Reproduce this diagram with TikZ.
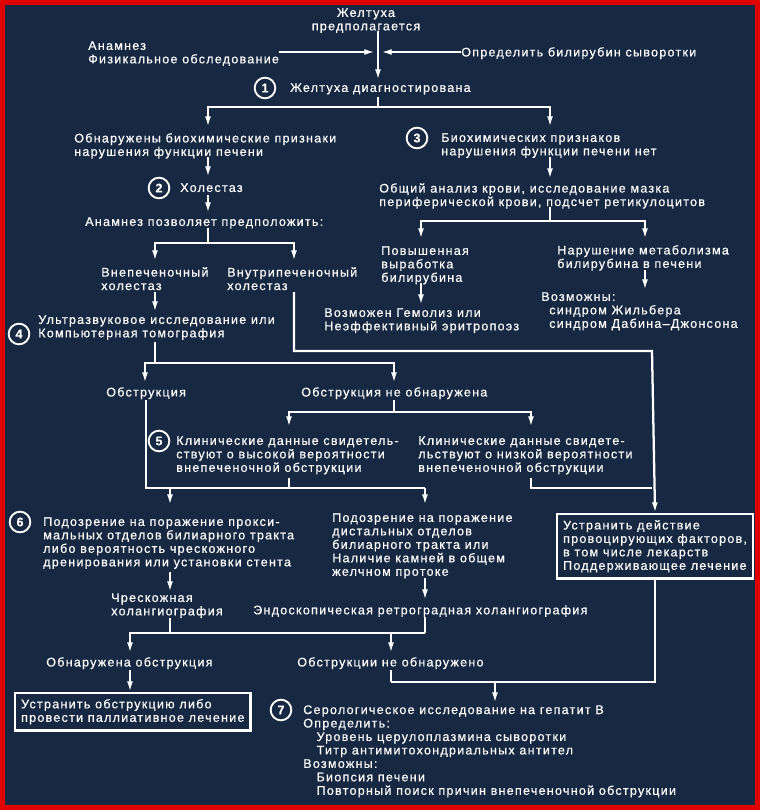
\documentclass[tikz,border=0pt]{standalone}
\usepackage{fontspec}
\setmainfont{Liberation Sans}[LetterSpace=10,FakeBold=0.5]
\usetikzlibrary{arrows.meta}
\definecolor{bgnavy}{RGB}{22,40,66}
\definecolor{framered}{RGB}{225,0,0}
\tikzset{
  txt/.style={anchor=north west, inner sep=0pt, align=left, text=white, font=\fontsize{9.4}{10.1}\selectfont},
  num/.style={circle, draw=white, line width=1.4pt, inner sep=0pt, minimum size=15.5pt, text=white, font=\fontsize{9.4}{10}\selectfont\bfseries},
  conn/.style={draw=white, line width=1.7pt},
  arr/.style={conn, -{Latex[length=8pt,width=4.5pt]}},
  boxed/.style={txt, draw=white, line width=1.7pt, inner sep=4.5pt}
}
\begin{document}
\begin{tikzpicture}[x=0.75pt,y=0.75pt,yscale=-1,xscale=1]
    \useasboundingbox (0,0) rectangle (760,810);
    %Shape: Rectangle [background]
    \fill[bgnavy] (0,0) rectangle (760,810);
    \draw[framered, line width=4pt] (2.5,2.5) rectangle (757.5,807.5);

    % Text Node
    \draw (366,8) node (pred) [txt][anchor=north][align=center] {Желтуха\\предполагается};
    % Text Node
    \draw (88,41) node (anam) [txt] {Анамнез\\Физикальное обследование};
    % Text Node
    \draw (461,47) node (bil) [txt] {Определить билирубин сыворотки};
    % Text Node
    \draw (265,88) node (c1) [num] {1};
    \draw (290,83) node (diag) [txt] {Желтуха диагностирована};
    % Text Node
    \draw (74,133) node (bioyes) [txt] {Обнаружены биохимические признаки\\нарушения функции печени};
    % Text Node
    \draw (417,138) node (c3) [num] {3};
    \draw (441,133) node (biono) [txt] {Биохимических признаков\\нарушения функции печени нет};
    % Text Node
    \draw (159,188) node (c2) [num] {2};
    \draw (180,183) node (chol) [txt] {Холестаз};
    % Text Node
    \draw (379,183) node (blood) [txt] {Общий анализ крови, исследование мазка\\периферической крови, подсчет ретикулоцитов};
    % Text Node
    \draw (85,217) node (anam2) [txt] {Анамнез позволяет предположить:};
    % Text Node
    \draw (101,267) node (extra) [txt] {Внепеченочный\\холестаз};
    % Text Node
    \draw (227,267) node (intra) [txt] {Внутрипеченочный\\холестаз};
    % Text Node
    \draw (381,246) node (hemo) [txt] {Повышенная\\выработка\\билирубина};
    % Text Node
    \draw (557,245) node (metab) [txt] {Нарушение метаболизма\\билирубина в печени};
    % Text Node
    \draw (324,308) node (hemol) [txt] {Возможен Гемолиз или\\Неэффективный эритропоэз};
    % Text Node
    \draw (541,292) node (gilb) [txt] {Возможны:\\\hspace*{6pt}синдром Жильбера\\\hspace*{6pt}синдром Дабина–Джонсона};
    % Text Node
    \draw (19,334) node (c4) [num] {4};
    \draw (38,315) node (us) [txt] {Ультразвуковое исследование или\\Компьютерная томография};
    % Text Node
    \draw (106,387) node (obs) [txt] {Обструкция};
    % Text Node
    \draw (301,387) node (nobs) [txt] {Обструкция не обнаружена};
    % Text Node
    \draw (159,441) node (c5) [num] {5};
    \draw (176,436) node (high) [txt] {Клинические данные свидетель-\\ствуют о высокой вероятности\\внепеченочной обструкции};
    % Text Node
    \draw (418,436) node (low) [txt] {Клинические данные свидете-\\льствуют о низкой вероятности\\внепеченочной обструкции};
    % Text Node
    \draw (20,522) node (c6) [num] {6};
    \draw (43,517) node (prox) [txt] {Подозрение на поражение прокси-\\мальных отделов билиарного тракта\\либо вероятность чрескожного\\дренирования или установки стента};
    % Text Node
    \draw (332,513) node (dist) [txt] {Подозрение на поражение\\дистальных отделов\\билиарного тракта или\\Наличие камней в общем\\желчном протоке};
    % Shape: Rectangle
    \draw (556,513) node (elim) [boxed] {Устранить действие\\провоцирующих факторов,\\в том числе лекарств\\Поддерживающее лечение};
    % Text Node
    \draw (111,593) node (perc) [txt] {Чрескожная\\холангиография};
    % Text Node
    \draw (253,605) node (ercp) [txt] {Эндоскопическая ретроградная холангиография};
    % Text Node
    \draw (46,657) node (fnd) [txt] {Обнаружена обструкция};
    % Text Node
    \draw (297,657) node (nfnd) [txt] {Обструкции не обнаружено};
    % Shape: Rectangle
    \draw (14,692) node (pall) [boxed] {Устранить обструкцию либо\\провести паллиативное лечение};
    % Text Node
    \draw (281,710) node (c7) [num] {7};
    \draw (303,705) node (sero) [txt] {Серологическое исследование на гепатит В\\Определить:\\\hspace*{10pt}Уровень церулоплазмина сыворотки\\\hspace*{10pt}Титр антимитохондриальных антител\\Возможны:\\\hspace*{10pt}Биопсия печени\\\hspace*{10pt}Повторный поиск причин внепеченочной обструкции};

    % Junctions
    \coordinate (t0) at (378,31);  \coordinate (t1) at (378,80);
    \coordinate (tl) at (375,52);  \coordinate (tr) at (381,52);
    \coordinate (d0) at (378,97);  \coordinate (d1) at (378,107);
    \coordinate (d2) at (208,127); \coordinate (d3) at (550,127);
    \coordinate (e0) at (208,157); \coordinate (e1) at (208,177);
    \coordinate (f0) at (550,157); \coordinate (f1) at (550,179);
    \coordinate (g0) at (208,195); \coordinate (g1) at (208,213);
    \coordinate (h0) at (208,228); \coordinate (h1) at (208,243);
    \coordinate (h2) at (155,261); \coordinate (h3) at (294,261);
    \coordinate (i0) at (550,207); \coordinate (i1) at (550,221);
    \coordinate (i2) at (421,239); \coordinate (i3) at (645,239);
    \coordinate (j0) at (421,283); \coordinate (j1) at (421,305);
    \coordinate (k0) at (645,270); \coordinate (k1) at (645,290);
    \coordinate (l0) at (155,292); \coordinate (l1) at (155,312);
    \coordinate (m0) at (294,292); \coordinate (m1) at (652,351);
    \coordinate (n0) at (155,342); \coordinate (n1) at (155,363);
    \coordinate (n2) at (145,383); \coordinate (n3) at (394,383);
    \coordinate (o0) at (394,400); \coordinate (o1) at (394,412);
    \coordinate (o2) at (289,427); \coordinate (o3) at (531,427);
    \coordinate (p0) at (146,400); \coordinate (p1) at (425,488);
    \coordinate (p2) at (289,478); \coordinate (p3) at (170,488);
    \coordinate (p4) at (170,505); \coordinate (p5) at (425,505);
    \coordinate (q0) at (531,478); \coordinate (q1) at (652,488);
    \coordinate (s0) at (170,572); \coordinate (s1) at (170,592);
    \coordinate (s2) at (425,578); \coordinate (s3) at (425,600);
    \coordinate (u0) at (170,618); \coordinate (u1) at (425,617);
    \coordinate (u2) at (425,633); \coordinate (u3) at (130,653);
    \coordinate (u4) at (391,653);
    \coordinate (w0) at (130,670);
    \coordinate (v0) at (391,670); \coordinate (v1) at (391,682);
    \coordinate (v2) at (495,682); \coordinate (v3) at (495,703);

    %Straight Lines
    \draw[arr] (t0) -- (t1);
    \draw[arr] (anam.east |- tl) -- (tl);
    \draw[arr] (bil.west |- tr) -- (tr);
    \draw[conn] (d0) -- (d1);
    \draw[arr] (d1) -| (d2);
    \draw[arr] (d1) -| (d3);
    \draw[arr] (e0) -- (e1);
    \draw[arr] (f0) -- (f1);
    \draw[arr] (g0) -- (g1);
    \draw[conn] (h0) -- (h1);
    \draw[arr] (h1) -| (h2);
    \draw[arr] (h1) -| (h3);
    \draw[conn] (i0) -- (i1);
    \draw[arr] (i1) -| (i2);
    \draw[arr] (i1) -| (i3);
    \draw[arr] (j0) -- (j1);
    \draw[arr] (k0) -- (k1);
    \draw[arr] (l0) -- (l1);
    \draw[arr] (m0) |- (m1) -- (elim.north);
    \draw[conn] (n0) -- (n1);
    \draw[arr] (n1) -| (n2);
    \draw[arr] (n1) -| (n3);
    \draw[conn] (o0) -- (o1);
    \draw[arr] (o1) -| (o2);
    \draw[arr] (o1) -| (o3);
    \draw[conn] (p0) |- (p1);
    \draw[conn] (p2) -- (p2 |- p1);
    \draw[arr] (p3) -- (p4);
    \draw[arr] (p1) -- (p5);
    \draw[conn] (q0) |- (q1);
    \draw[arr] (s0) -- (s1);
    \draw[arr] (s2) -- (s3);
    \draw[conn] (u0) -- (u0 |- u2);
    \draw[conn] (u1) -- (u2);
    \draw[arr] (u2) -| (u3);
    \draw[arr] (u4 |- u2) -- (u4);
    \draw[arr] (w0) -- (pall.north -| w0);
    \draw[conn] (elim.south) |- (v1);
    \draw[conn] (v0) -- (v1);
    \draw[arr] (v2) -- (v3);
\end{tikzpicture}
\end{document}
